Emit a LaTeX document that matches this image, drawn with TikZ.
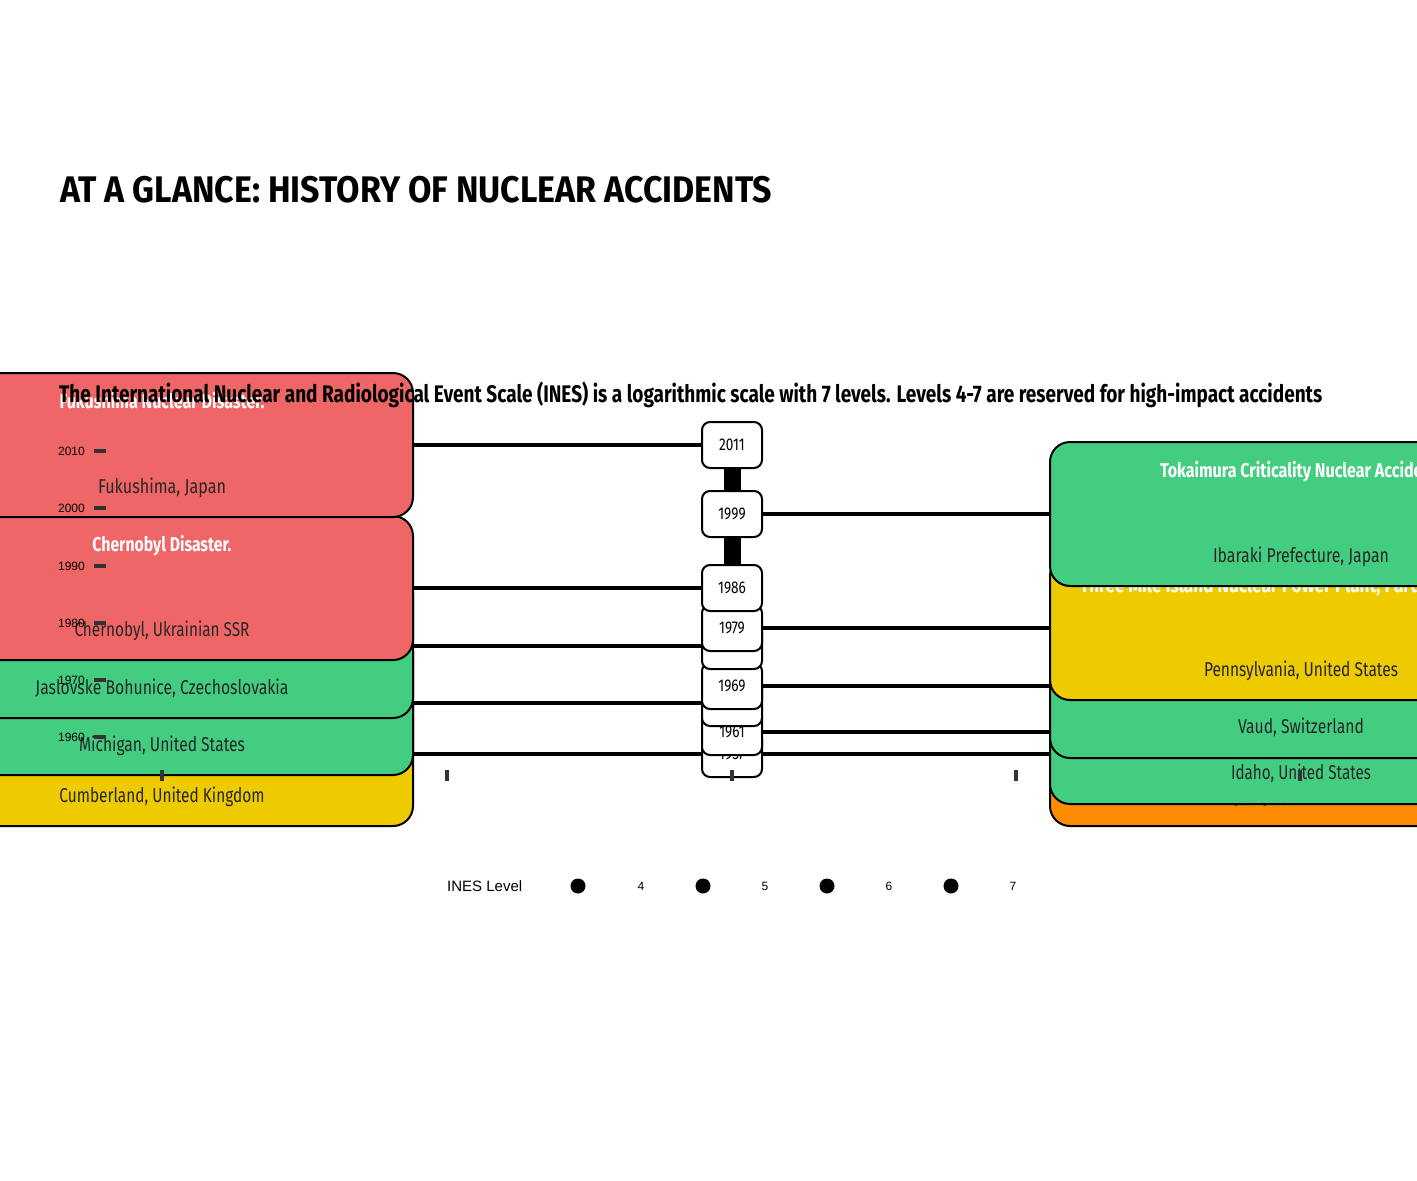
\documentclass[tikz,border=0pt]{standalone}
\usepackage{fontspec}
\usepackage{graphicx}
\setmainfont{Liberation Sans}
\newfontfamily\condf[FakeStretch=0.8]{Fira Sans}
\newfontfamily\headf{Fira Sans}
\definecolor{cred}{RGB}{238,102,102}
\definecolor{cgreen}{RGB}{67,205,128}
\definecolor{cyellow}{RGB}{238,202,0}
\definecolor{corange}{RGB}{255,140,0}
\definecolor{tickc}{RGB}{51,51,51}
\newcommand\fitw[2]{\resizebox{#1pt}{\height}{#2}}
\begin{document}
\begin{tikzpicture}[x=1pt,y=-1pt,
  card/.style={draw=black,line width=2pt,rounded corners=20pt,minimum width=502pt,minimum height=144pt,inner sep=0pt},
  yearbox/.style={draw=black,line width=2pt,fill=white,rounded corners=8pt,minimum width=60pt,minimum height=46pt,inner sep=0pt,font=\condf\fontsize{17}{17}\selectfont},
  ctitle/.style={anchor=base,text=white,inner sep=0pt,font=\condf\bfseries\fontsize{20}{20}\selectfont},
  cloc/.style={anchor=base,text=black!85,inner sep=0pt,font=\condf\fontsize{20}{20}\selectfont},
  conn/.style={line width=4pt},
  spine/.style={line width=17pt},
  axtick/.style={draw=tickc,line width=4pt},
  ylab/.style={anchor=east,inner sep=0pt,font=\fontsize{12}{12}\selectfont},
  legdot/.style={circle,fill=black,minimum size=15pt,inner sep=0pt},
  leglab/.style={inner sep=0pt,font=\fontsize{12}{12}\selectfont}]
\useasboundingbox (0,0) rectangle (1417,1181);
\clip (0,0) rectangle (1417,1181);

% ---------- left cards ----------
\node[card,fill=cyellow] (cum) at (162,754) {};
\node[cloc] (cumL) at (162,802) {\fitw{205}{Cumberland, United Kingdom}};
\node[card,fill=cgreen] (mic) at (162,703) {};
\node[cloc] (micL) at (162,751) {\fitw{166}{Michigan, United States}};
\node[card,fill=cgreen] (jas) at (162,646) {};
\node[cloc] (jasL) at (162,694) {\fitw{253}{Jaslovské Bohunice, Czechoslovakia}};
\node[card,fill=cred] (che) at (162,588) {};
\node[ctitle] (cheT) at (162,551) {\fitw{139}{Chernobyl Disaster.}};
\node[cloc] (cheL) at (162,636) {\fitw{175}{Chernobyl, Ukrainian SSR}};
\node[card,fill=cred] (fuk) at (162,445) {};
\node[ctitle] (fukT) at (162,408) {\fitw{205}{Fukushima Nuclear Disaster.}};
\node[cloc] (fukL) at (162,493) {\fitw{128}{Fukushima, Japan}};

% ---------- right cards ----------
\node[card,fill=corange] (kys) at (1301,754) {};
\node[cloc] (kysL) at (1301,802) {\fitw{150}{Kyshtym, Soviet Union}};
\node[card,fill=cgreen] (ida) at (1301,732) {};
\node[cloc] (idaL) at (1301,779) {\fitw{140}{Idaho, United States}};
\node[card,fill=cgreen] (vau) at (1301,686) {};
\node[cloc] (vauL) at (1301,733) {\fitw{126}{Vaud, Switzerland}};
\node[card,fill=cyellow] (tmi) at (1301,628) {};
\node[ctitle] (tmiT) at (1301,592) {\fitw{442}{Three Mile Island Nuclear Power Plant, Partial Meltdown.}};
\node[cloc] (tmiL) at (1301,676) {\fitw{194}{Pennsylvania, United States}};
\node[card,fill=cgreen] (tok) at (1301,514) {};
\node[ctitle] (tokT) at (1301,477) {\fitw{282}{Tokaimura Criticality Nuclear Accident.}};
\node[cloc] (tokL) at (1301,562) {\fitw{176}{Ibaraki Prefecture, Japan}};

% ---------- spine and year boxes ----------
\coordinate (spTop) at (732,445);
\coordinate (spBot) at (732,754);
\draw[spine] (spTop) -- (spBot);
\node[yearbox] (y1957) at (732,754) {1957};
\node[yearbox] (y1961) at (732,732) {1961};
\node[yearbox] (y1966) at (732,703) {1966};
\node[yearbox] (y1969) at (732,686) {1969};
\node[yearbox] (y1977) at (732,646) {1977};
\node[yearbox] (y1979) at (732,628) {1979};
\node[yearbox] (y1986) at (732,588) {1986};
\node[yearbox] (y1999) at (732,514) {1999};
\node[yearbox] (y2011) at (732,445) {2011};

% ---------- connectors ----------
\draw[conn] (fuk.east) -- (y2011.west);
\draw[conn] (che.east) -- (y1986.west);
\draw[conn] (jas.east) -- (y1977.west);
\draw[conn] (mic.east) -- (y1966.west);
\draw[conn] (cum.east) -- (y1957.west);
\draw[conn] (y1999.east) -- (tok.west);
\draw[conn] (y1979.east) -- (tmi.west);
\draw[conn] (y1969.east) -- (vau.west);
\draw[conn] (y1961.east) -- (ida.west);
\draw[conn] (y1957.east) -- (kys.west);

% ---------- axes ----------
\foreach \yr/\yy in {2010/451,2000/508,1990/566,1980/623,1970/680,1960/737}{
  \draw[axtick] (94,\yy) -- (106,\yy);
  \node[ylab] at (85,\yy) {\yr};
}
\foreach \xx in {162,447,732,1016,1300}{
  \draw[axtick] (\xx,770) -- (\xx,781);
}

% ---------- headings ----------
\node[anchor=base west,inner sep=0pt,font=\headf\bfseries\fontsize{37}{37}\selectfont] (title) at (60,202)
  {\fitw{712}{AT A GLANCE: HISTORY OF NUCLEAR ACCIDENTS}};
\node[anchor=base west,inner sep=0pt,font=\headf\bfseries\fontsize{24}{24}\selectfont] (subtitle) at (59,402)
  {\fitw{1263}{The International Nuclear and Radiological Event Scale (INES) is a logarithmic scale with 7 levels. Levels 4-7 are reserved for high-impact accidents}};

% ---------- legend ----------
\node[anchor=west,inner sep=0pt,font=\fontsize{15}{15}\selectfont] (legT) at (447,886) {INES Level};
\node[legdot] (d4) at (578,886) {};
\node[leglab] (l4) at (641,886) {4};
\node[legdot] (d5) at (703,886) {};
\node[leglab] (l5) at (765,886) {5};
\node[legdot] (d6) at (827,886) {};
\node[leglab] (l6) at (889,886) {6};
\node[legdot] (d7) at (951,886) {};
\node[leglab] (l7) at (1013,886) {7};
\end{tikzpicture}
\end{document}
